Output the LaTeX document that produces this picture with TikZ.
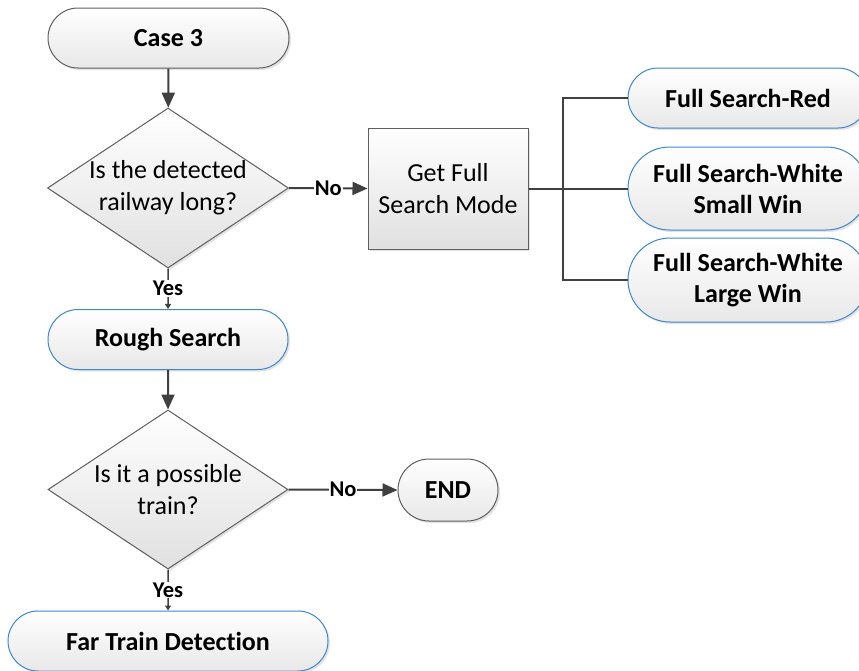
\documentclass[tikz,border=0pt]{standalone}
\usepackage{fontspec}
\setmainfont{Carlito}[Ligatures=NoCommon]
\usetikzlibrary{shapes.geometric,shapes.misc,shadows,arrows.meta}
\definecolor{bluebd}{RGB}{60,135,205}
\definecolor{graybd}{RGB}{95,95,95}
\definecolor{lnc}{RGB}{64,64,64}
\tikzset{
  base/.style={draw, line width=1pt, top color=white, bottom color=black!9,
    drop shadow={opacity=0.22, shadow xshift=2pt, shadow yshift=-2pt},
    inner sep=0pt, align=center},
  term/.style={base, rounded rectangle, font=\fontsize{26}{31}\selectfont\bfseries},
  gterm/.style={term, draw=graybd},
  bterm/.style={term, draw=bluebd},
  dec/.style={base, diamond, draw=graybd, bottom color=black!12},
  proc/.style={base, rectangle, draw=graybd, bottom color=black!12},
  txt/.style={font=\fontsize{26}{32}\selectfont, align=center, inner sep=0pt},
  arr/.style={draw=lnc, line width=2pt, -{Triangle[length=15pt,width=13pt]}},
  yarr/.style={draw=lnc, line width=1.5pt, -{Triangle[length=5pt,width=6pt]}},
  br/.style={draw=lnc, line width=2pt},
  lab/.style={fill=white, inner sep=1pt, font=\fontsize{22.5}{25}\selectfont\bfseries, text=black},
}
\begin{document}
\begin{tikzpicture}[x=1pt,y=-1pt]
\useasboundingbox (0,0) rectangle (859,670);
\clip (0,0) rectangle (859,670);
% nodes
\node[gterm, minimum width=241pt, minimum height=60pt] (c3) at (168.5,38) {Case 3};
\node[dec, minimum width=241pt, minimum height=160pt] (d1) at (168,188) {};
\node[txt] (d1t) at (d1.center) {Is the detected\\railway long?};
\node[proc, minimum width=160pt, minimum height=121pt] (gfs) at (448,188.5) {};
\node[txt] (gfst) at (gfs.center) {Get Full\\Search Mode};
\node[bterm, minimum width=240pt, minimum height=60pt] (fr) at (748,98) {Full Search-Red};
\node[bterm, minimum width=240pt, minimum height=83pt] (fsw) at (748,188.5) {Full Search-White\\Small Win};
\node[bterm, minimum width=240pt, minimum height=84pt] (flw) at (748,280) {Full Search-White\\Large Win};
\node[bterm, minimum width=240pt, minimum height=60pt] (rough) at (168,339.5) {Rough Search};
\node[dec, minimum width=240pt, minimum height=159pt] (d2) at (168,489.5) {};
\node[txt] (d2t) at (d2.center) {Is it a possible\\train?};
\node[gterm, minimum width=100pt, minimum height=62pt] (end) at (448,490) {END};
\node[bterm, minimum width=320pt, minimum height=60pt] (far) at (168,641) {Far Train Detection};
\coordinate (j) at (563,188.5);
% connectors
\draw[arr] (c3) -- (d1);
\draw[arr] (d1.east) -- node[lab]{No} (gfs.west);
\draw[yarr] (d1) -- node[lab]{Yes} (rough);
\draw[br] (gfs.east) -- (fsw.west);
\draw[br] (fr.west) -| (j) |- (flw.west);
\draw[arr] (rough) -- (d2);
\draw[arr] (d2.east) -- node[lab]{No} (end.west);
\draw[yarr] (d2) -- node[lab]{Yes} (far);
\end{tikzpicture}
\end{document}
